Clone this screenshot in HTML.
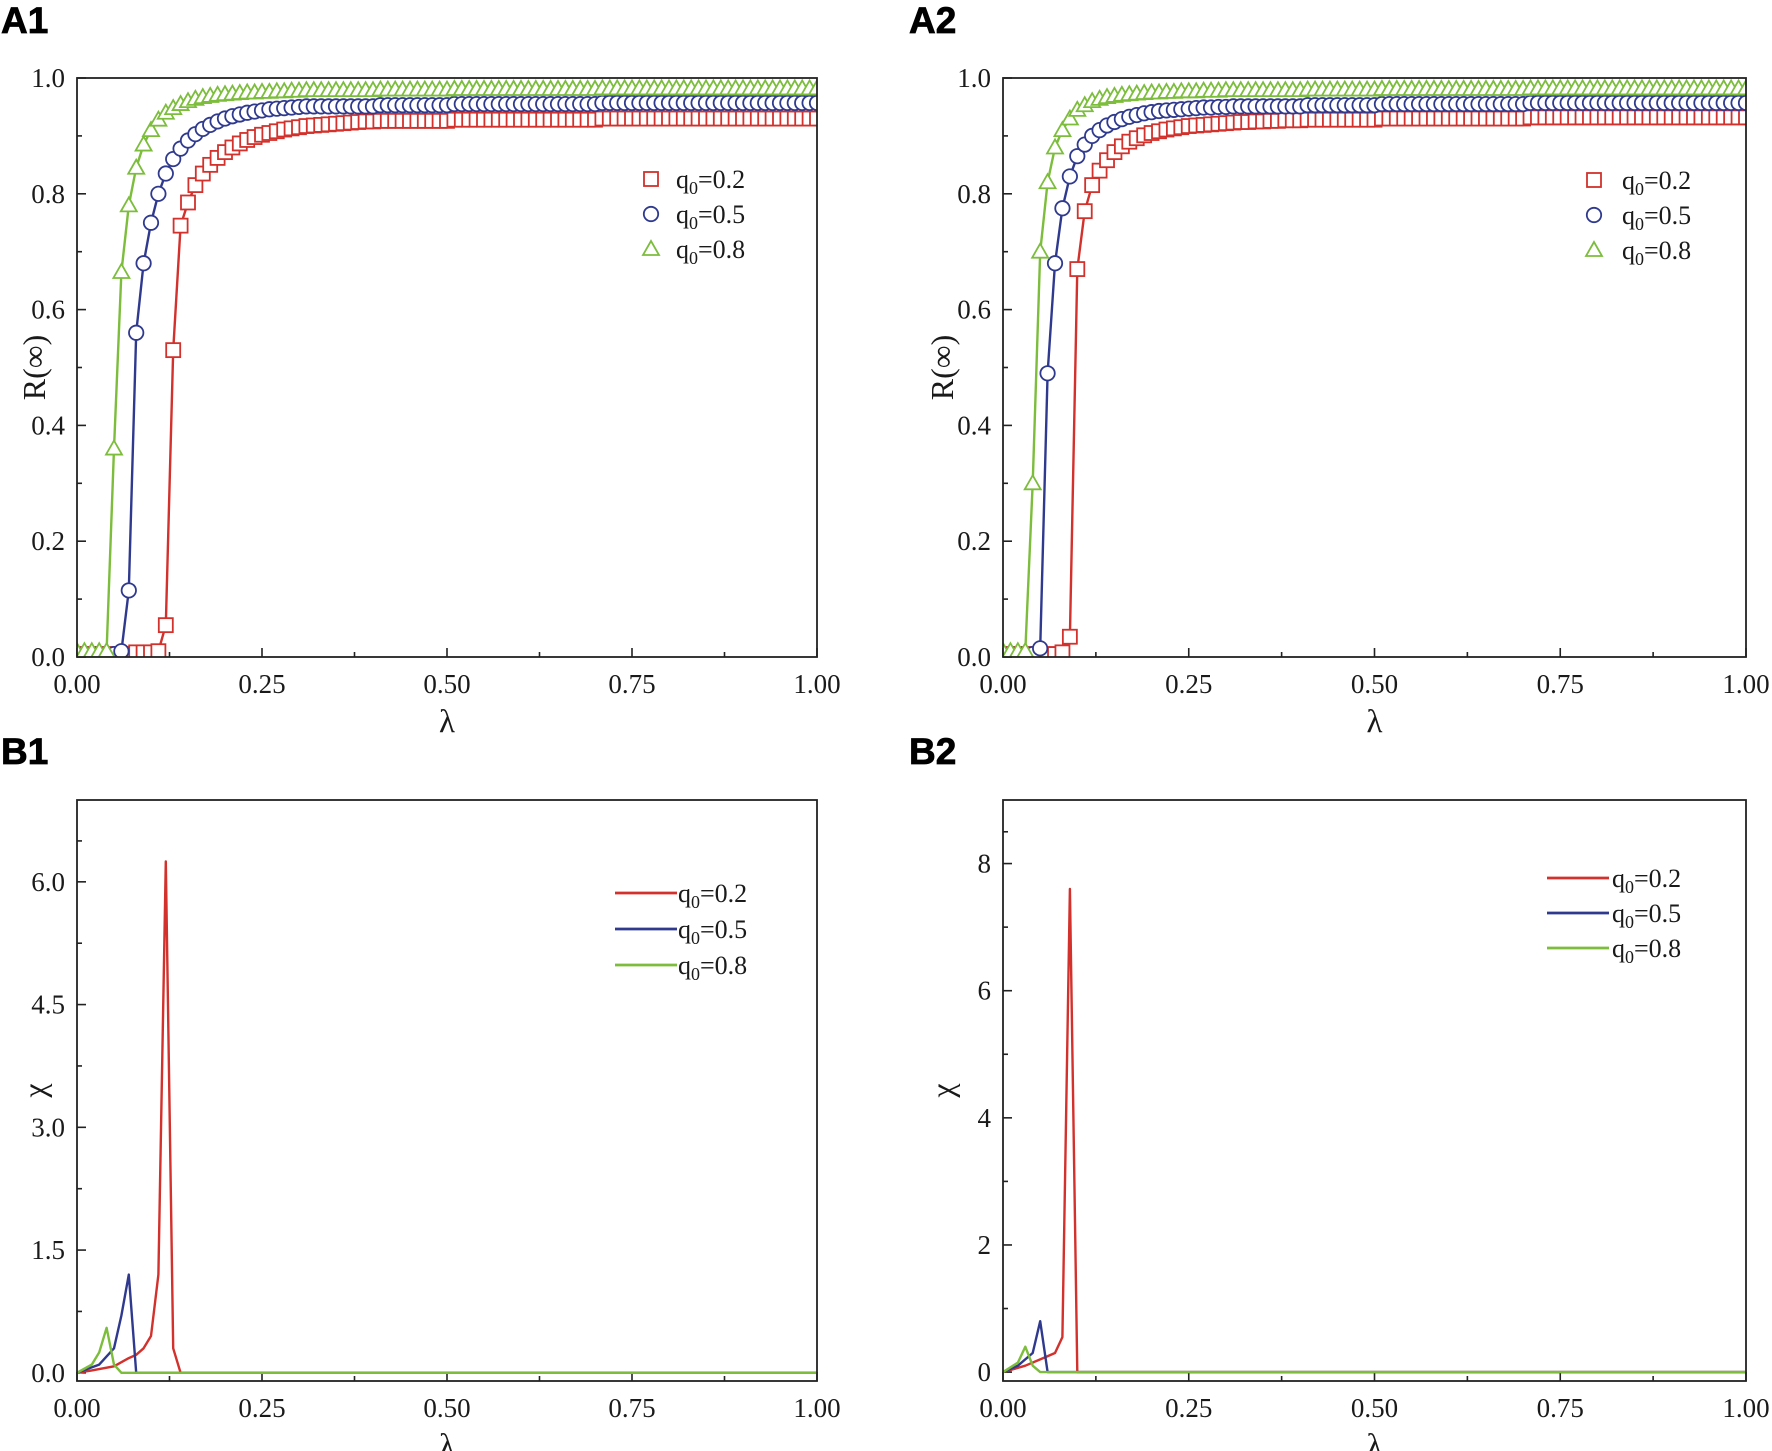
<!DOCTYPE html>
<html><head><meta charset="utf-8"><style>
html,body{margin:0;padding:0;background:#fff}
svg{display:block}
text{font-family:"Liberation Serif",serif;fill:#1a1a1a}
.pl{font-family:"Liberation Sans",sans-serif;font-weight:bold;fill:#000}
</style></head><body>
<svg id="fig" width="1772" height="1451" viewBox="0 0 1772 1451" xmlns="http://www.w3.org/2000/svg"></svg>
<script>
const xTicks=[0,0.25,0.5,0.75,1.0];
const xTickLabels=["0.00","0.25","0.50","0.75","1.00"];
const aYTicks=[0,0.2,0.4,0.6,0.8,1.0];
const aYTickLabels=["0.0","0.2","0.4","0.6","0.8","1.0"];
const b1YTicks=[0,1.5,3,4.5,6];
const b1YTickLabels=["0.0","1.5","3.0","4.5","6.0"];
const b2YTicks=[0,2,4,6,8];
const b2YTickLabels=["0","2","4","6","8"];
const seriesNames=["q0=0.2","q0=0.5","q0=0.8"];

const a1Red=[0.005,0.005,0.005,0.005,0.005,0.005,0.005,0.005,0.008,0.008,0.008,0.01,0.055,0.53,0.745,0.785,0.815,0.835,0.85,0.862,0.872,0.88,0.887,0.893,0.898,0.902,0.905,0.908,0.911,0.913,0.915,
0.917,0.918,0.919,0.92,0.921,0.922,0.923,0.924,0.925,0.925,
0.926,0.926,0.926,0.926,0.926,0.926,0.926,0.926,0.926,0.926,
0.928,0.928,0.928,0.928,0.928,0.928,0.928,0.928,0.928,0.928,0.928,0.928,0.928,0.928,0.928,0.928,0.928,0.928,0.928,0.928,
0.93,0.93,0.93,0.93,0.93,0.93,0.93,0.93,0.93,0.93,0.93,0.93,0.93,0.93,0.93,0.93,0.93,0.93,0.93,0.93,0.93,0.93,0.93,0.93,0.93,0.93,0.93,0.93,0.93,0.93];
const a1Blue=[0.005,0.005,0.005,0.005,0.005,0.005,0.01,0.115,0.56,0.68,0.75,0.80,0.835,0.86,0.878,0.892,0.903,0.912,0.919,0.925,0.93,0.934,0.937,0.94,0.942,0.944,0.946,0.947,0.948,0.949,0.95,
0.951,0.951,0.951,0.951,0.951,0.951,0.951,0.951,0.951,0.951,
0.953,0.953,0.953,0.953,0.953,0.953,0.953,0.953,0.953,0.953,
0.955,0.955,0.955,0.955,0.955,0.955,0.955,0.955,0.955,0.955,0.955,0.955,0.955,0.955,0.955,0.955,0.955,0.955,0.955,0.955,
0.957,0.957,0.957,0.957,0.957,0.957,0.957,0.957,0.957,0.957,0.957,0.957,0.957,0.957,0.957,0.957,0.957,0.957,0.957,0.957,0.957,0.957,0.957,0.957,0.957,0.957,0.957,0.957,0.957,0.957];
const a1Green=[0.01,0.01,0.01,0.01,0.01,0.36,0.665,0.78,0.845,0.885,0.91,0.928,0.94,0.948,0.955,0.96,0.964,0.967,0.969,0.971,0.972,
0.973,0.974,0.975,0.975,0.976,0.976,0.977,0.977,0.978,0.978,
0.979,0.979,0.979,0.979,0.979,0.979,0.979,0.979,0.979,0.979,
0.98,0.98,0.98,0.98,0.98,0.98,0.98,0.98,0.98,0.98,
0.981,0.981,0.981,0.981,0.981,0.981,0.981,0.981,0.981,0.981,0.981,0.981,0.981,0.981,0.981,0.981,0.981,0.981,0.981,0.981,
0.982,0.982,0.982,0.982,0.982,0.982,0.982,0.982,0.982,0.982,0.982,0.982,0.982,0.982,0.982,0.982,0.982,0.982,0.982,0.982,0.982,0.982,0.982,0.982,0.982,0.982,0.982,0.982,0.982,0.982];
const a2Red=[0.005,0.005,0.005,0.005,0.005,0.005,0.005,0.005,0.008,0.035,0.67,0.77,0.815,0.84,0.858,0.872,0.882,0.89,0.896,0.901,0.905,0.908,0.911,0.913,0.915,0.917,0.918,0.919,0.92,0.921,0.922,
0.923,0.924,0.924,0.925,0.925,0.926,0.926,0.927,0.927,0.927,
0.928,0.928,0.928,0.928,0.928,0.928,0.928,0.928,0.928,0.928,
0.93,0.93,0.93,0.93,0.93,0.93,0.93,0.93,0.93,0.93,0.93,0.93,0.93,0.93,0.93,0.93,0.93,0.93,0.93,0.93,
0.932,0.932,0.932,0.932,0.932,0.932,0.932,0.932,0.932,0.932,0.932,0.932,0.932,0.932,0.932,0.932,0.932,0.932,0.932,0.932,0.932,0.932,0.932,0.932,0.932,0.932,0.932,0.932,0.932,0.932];
const a2Blue=[0.005,0.005,0.005,0.005,0.005,0.015,0.49,0.68,0.775,0.83,0.865,0.885,0.9,0.91,0.918,0.924,0.929,0.933,0.936,0.939,0.941,0.943,0.944,0.945,0.946,0.947,0.948,0.949,0.949,0.95,0.95,
0.951,0.951,0.951,0.951,0.951,0.951,0.951,0.951,0.951,0.951,
0.953,0.953,0.953,0.953,0.953,0.953,0.953,0.953,0.953,0.953,
0.955,0.955,0.955,0.955,0.955,0.955,0.955,0.955,0.955,0.955,0.955,0.955,0.955,0.955,0.955,0.955,0.955,0.955,0.955,0.955,
0.957,0.957,0.957,0.957,0.957,0.957,0.957,0.957,0.957,0.957,0.957,0.957,0.957,0.957,0.957,0.957,0.957,0.957,0.957,0.957,0.957,0.957,0.957,0.957,0.957,0.957,0.957,0.957,0.957,0.957];
const a2Green=[0.01,0.01,0.01,0.01,0.30,0.70,0.82,0.88,0.91,0.93,0.945,0.953,0.96,0.964,0.967,0.969,0.971,0.972,0.973,0.974,0.975,
0.975,0.976,0.976,0.977,0.977,0.977,0.978,0.978,0.978,0.979,
0.979,0.979,0.979,0.979,0.979,0.979,0.979,0.979,0.979,0.979,
0.98,0.98,0.98,0.98,0.98,0.98,0.98,0.98,0.98,0.98,
0.981,0.981,0.981,0.981,0.981,0.981,0.981,0.981,0.981,0.981,0.981,0.981,0.981,0.981,0.981,0.981,0.981,0.981,0.981,0.981,
0.982,0.982,0.982,0.982,0.982,0.982,0.982,0.982,0.982,0.982,0.982,0.982,0.982,0.982,0.982,0.982,0.982,0.982,0.982,0.982,0.982,0.982,0.982,0.982,0.982,0.982,0.982,0.982,0.982,0.982];

const b1RedX=[0,0.02,0.05,0.07,0.08,0.09,0.10,0.11,0.12,0.13,0.14,1.0];
const b1RedY=[0,0.03,0.08,0.18,0.22,0.3,0.45,1.2,6.25,0.3,0,0];
const b1BlueX=[0,0.03,0.05,0.06,0.07,0.08,1.0];
const b1BlueY=[0,0.1,0.3,0.7,1.2,0,0];
const b1GreenX=[0,0.02,0.03,0.04,0.05,0.06,1.0];
const b1GreenY=[0,0.1,0.25,0.55,0.1,0,0];
const b2RedX=[0,0.03,0.05,0.07,0.08,0.09,0.10,1.0];
const b2RedY=[0,0.1,0.2,0.3,0.55,7.6,0,0];
const b2BlueX=[0,0.02,0.04,0.05,0.06,1.0];
const b2BlueY=[0,0.1,0.3,0.8,0,0];
const b2GreenX=[0,0.02,0.03,0.04,0.05,1.0];
const b2GreenY=[0,0.15,0.4,0.1,0,0];

const COLORS=["#d2312c","#2f3a8f","#7cbd3c"];
const NS="http://www.w3.org/2000/svg";
const svg=document.getElementById('fig');
function mk(tag,attrs,parent){const e=document.createElementNS(NS,tag);for(const k in attrs)e.setAttribute(k,attrs[k]);(parent||svg).appendChild(e);return e;}

function panel(o){
  const g=mk('g',{});
  
  
  const sx=v=>o.x0+(v-0)/(1-0)*(o.x1-o.x0);
  const sy=v=>o.yb-(v-o.ymin)/(o.ymax-o.ymin)*(o.yb-o.yt);
  const lbl=mk('text',{x:1,y:o.ly,class:'pl','font-size':37,'stroke':'#000','stroke-width':0.8},g);lbl.setAttribute('x',o.lx);lbl.textContent=o.label;
  
  
  for(let i=0;i<=8;i++){const v=i*0.125;const len=i%2?5:9;
    mk('line',{x1:sx(v),x2:sx(v),y1:o.yb,y2:o.yb-len,stroke:'#222','stroke-width':1.6},g);}
  xTicks.forEach((v,i)=>{const t=mk('text',{x:sx(v),y:o.yb+36,'font-size':27,'text-anchor':'middle'},g);t.textContent=xTickLabels[i];
    
    });
  o.yTicks.forEach((v,i)=>{mk('line',{x1:o.x0,x2:o.x0+9,y1:sy(v),y2:sy(v),stroke:'#222','stroke-width':1.6},g);
    if(i<o.yTicks.length-1){const m=(v+o.yTicks[i+1])/2;mk('line',{x1:o.x0,x2:o.x0+5,y1:sy(m),y2:sy(m),stroke:'#222','stroke-width':1.6},g);}
    const t=mk('text',{x:o.x0-12,y:sy(v)+9,'font-size':27,'text-anchor':'end'},g);t.textContent=o.yTickLabels[i];
    
    });
  if(o.extraMinor){const m=(o.yTicks[o.yTicks.length-1]+o.ymax)/2;if(m<o.ymax)mk('line',{x1:o.x0,x2:o.x0+5,y1:sy(m),y2:sy(m),stroke:'#222','stroke-width':1.6},g);}
  const xt=mk('text',{x:(o.x0+o.x1)/2,y:o.yb+75,'font-size':33,'text-anchor':'middle'},g);xt.textContent='λ';
  
  
  const yc=(o.yt+o.yb)/2;
  const yt=mk('text',{x:0,y:0,'font-size':32,'text-anchor':'middle',transform:`translate(${o.lx+44},${yc}) rotate(-90)`},g);yt.textContent=o.ytitle;
  
  
  const clip='c'+o.name;
  const cp=mk('clipPath',{id:clip},g);mk('rect',{x:o.x0,y:o.yt,width:o.x1-o.x0,height:o.yb-o.yt},cp);
  const dg=mk('g',{'clip-path':`url(#${clip})`},g);
  o.series.forEach((s,si)=>{
    const col=COLORS[si];
    const d=s.x.map((x,i)=>(i?'L':'M')+sx(x).toFixed(1)+','+sy(s.y[i]).toFixed(1)).join('');
    const p=mk('path',{d:d,fill:'none',stroke:col,'stroke-width':2.4,'stroke-linejoin':'round'},dg);
    
    
    if(o.markers){s.x.forEach((x,i)=>{drawMarker(dg,si,sx(x),sy(s.y[i]),col);});}
  });
  mk('rect',{x:o.x0,y:o.yt,width:o.x1-o.x0,height:o.yb-o.yt,fill:'none',stroke:'#222','stroke-width':1.8},g);
  seriesNames.forEach((n,i)=>{
    const lg=mk('g',{},g);
    
    
    const y=o.legY+i*o.legDy;
    if(o.markers)drawMarker(lg,i,o.legX,y,COLORS[i]);
    else mk('line',{x1:o.legX-32,x2:o.legX+30,y1:y,y2:y,stroke:COLORS[i],'stroke-width':2.8},lg);
    const t=mk('text',{x:o.legTX,y:y+9,'font-size':26},lg);
    t.innerHTML='q<tspan font-size="18" dy="6">0</tspan><tspan dy="-6">='+n.split('=')[1]+'</tspan>';
  });
}
function drawMarker(g,si,x,y,col){
  let m;
  if(si===0)m=mk('rect',{x:x-7,y:y-7,width:14,height:14,fill:'#fff',stroke:col,'stroke-width':1.8},g);
  else if(si===1)m=mk('circle',{cx:x,cy:y,r:7.2,fill:'#fff',stroke:col,'stroke-width':1.8},g);
  else m=mk('path',{d:`M${x},${y-8}L${x+8},${y+6}L${x-8},${y+6}Z`,fill:'#fff',stroke:col,'stroke-width':1.8},g);
  
  
}
const grid=a1Red.map((_,i)=>i/100);
panel({name:'panel-a1',label:'A1',lx:1,ly:33,x0:77,x1:817,yt:78,yb:657,ymin:0,ymax:1,yTicks:aYTicks,yTickLabels:aYTickLabels,ytitle:'R(∞)',markers:true,
  series:[{x:grid,y:a1Red},{x:grid,y:a1Blue},{x:grid,y:a1Green}],legX:651,legTX:676,legY:179,legDy:35});
panel({name:'panel-a2',label:'A2',lx:909,ly:33,x0:1003,x1:1746,yt:78,yb:657,ymin:0,ymax:1,yTicks:aYTicks,yTickLabels:aYTickLabels,ytitle:'R(∞)',markers:true,
  series:[{x:grid,y:a2Red},{x:grid,y:a2Blue},{x:grid,y:a2Green}],legX:1594,legTX:1622,legY:180,legDy:35});
panel({name:'panel-b1',label:'B1',lx:1,ly:764,x0:77,x1:817,yt:800,yb:1381,ymin:-0.1,ymax:7.0,yTicks:b1YTicks,yTickLabels:b1YTickLabels,ytitle:'χ',markers:false,extraMinor:true,
  series:[{x:b1RedX,y:b1RedY},{x:b1BlueX,y:b1BlueY},{x:b1GreenX,y:b1GreenY}],legX:647,legTX:678,legY:893,legDy:36});
panel({name:'panel-b2',label:'B2',lx:909,ly:764,x0:1003,x1:1746,yt:800,yb:1381,ymin:-0.14,ymax:9.0,yTicks:b2YTicks,yTickLabels:b2YTickLabels,ytitle:'χ',markers:false,extraMinor:true,
  series:[{x:b2RedX,y:b2RedY},{x:b2BlueX,y:b2BlueY},{x:b2GreenX,y:b2GreenY}],legX:1579,legTX:1612,legY:878,legDy:35});
</script>
</body></html>
